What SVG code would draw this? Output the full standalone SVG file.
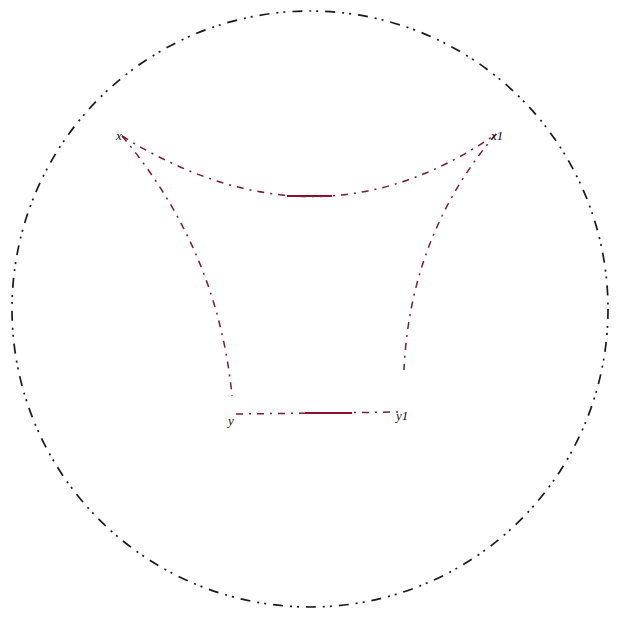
<svg xmlns="http://www.w3.org/2000/svg" width="621" height="618" viewBox="0 0 621 618">
<style>
.bound{fill:none;stroke:#1a1a1a;stroke-width:1.7;stroke-dasharray:10 7 2 5 2 7}
.edge{fill:none;stroke:#7a1a35;stroke-width:1.5;stroke-dasharray:7 6 2 6}
.mid{fill:none;stroke:#8c1030;stroke-width:2}
.lbl{font-family:"Liberation Serif",serif;font-size:13px;font-style:italic;fill:#111}
</style>
<rect width="621" height="618" fill="#fff"/>
<g id="disk"><circle class="bound" cx="310" cy="309" r="298"/></g>
<g id="connectors">
<path class="edge" d="M122,136 Q318,258 496,134"/>
<path class="mid" d="M287,196 L332,196"/>
<path class="edge" d="M122,136 Q218,250 232,396"/>
<path class="edge" d="M496,134 Q410,235 404,370"/>
<path class="edge" d="M236,414 L400,412"/>
<path class="mid" d="M305,413 L352,413"/>
</g>
<g id="n1"><text class="lbl" x="116" y="140">x</text></g>
<g id="n2"><text class="lbl" x="491" y="140">x1</text></g>
<g id="n3"><text class="lbl" x="228" y="425">y</text></g>
<g id="n4"><text class="lbl" x="396" y="420">y1</text></g>
</svg>
